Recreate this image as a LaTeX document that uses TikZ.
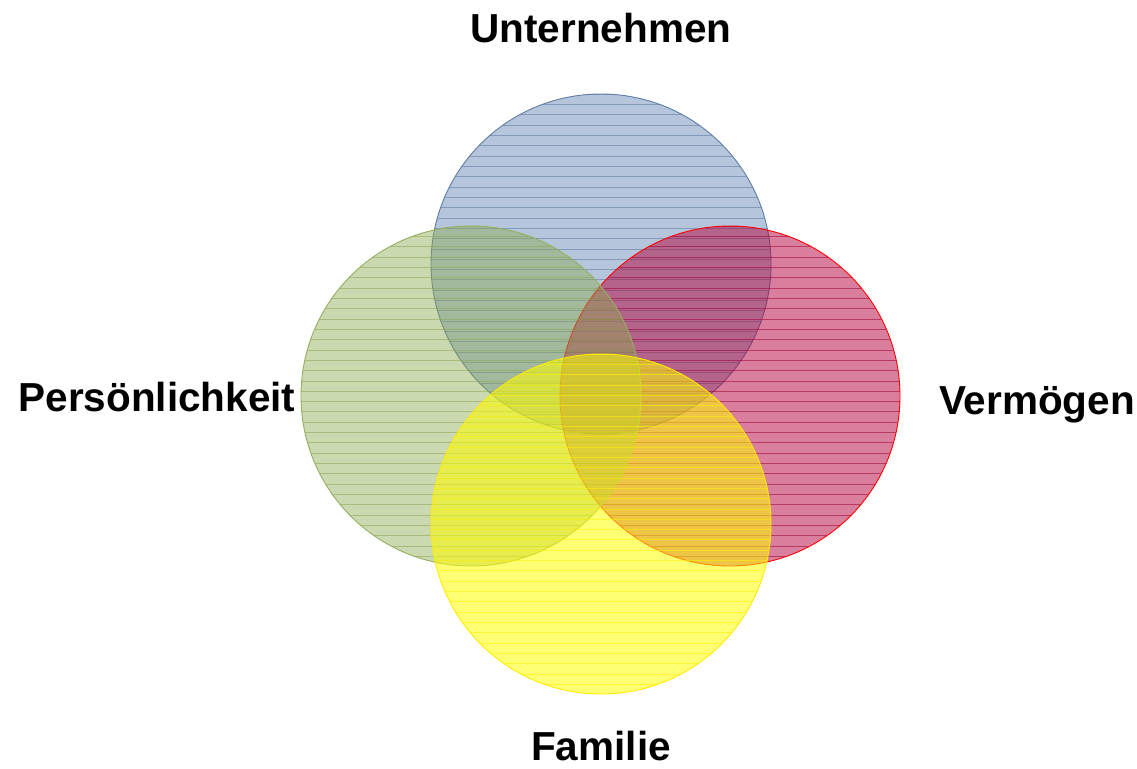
\documentclass[tikz,border=0pt]{standalone}
\usepackage{fontspec}
\setmainfont{Liberation Sans}
\begin{document}
\begin{tikzpicture}[x=1pt,y=-1pt,
  lbl/.style={font=\fontsize{40.5}{44}\selectfont\bfseries, inner sep=0pt},
  hatch/.style={line width=0.9pt, opacity=0.55}]
\useasboundingbox (0,0) rectangle (1137,768);
\definecolor{cblue}{RGB}{79,120,172}
\definecolor{cbluel}{RGB}{90,120,160}
\definecolor{cbluee}{RGB}{95,125,165}
\definecolor{cred}{RGB}{180,0,60}
\definecolor{credl}{RGB}{160,0,50}
\definecolor{crede}{RGB}{255,0,0}
\definecolor{cgreen}{RGB}{140,170,80}
\definecolor{cgreenl}{RGB}{140,165,80}
\definecolor{cgreene}{RGB}{150,175,95}
\definecolor{cyel}{RGB}{255,255,0}
\definecolor{cyell}{RGB}{255,240,0}
\definecolor{cyele}{RGB}{255,235,0}
\newcommand{\vcircle}[6]{%
  \fill[#3, fill opacity=#5] (#1,#2) circle (170);
  \begin{scope}
    \clip (#1,#2) circle (170);
    \foreach \k in {0,...,33} {
      \draw[hatch, #4] ({#1-175},{#2-170+\k*10.33}) -- ({#1+175},{#2-170+\k*10.33});
    }
  \end{scope}
  \draw[#6, line width=0.9pt] (#1,#2) circle (170);
}
\coordinate (cu) at (601,264);
\coordinate (cv) at (730,396);
\coordinate (cp) at (471,396);
\coordinate (cf) at (601,524);
\vcircle{601}{264}{cblue}{cbluel}{0.42}{cbluee}
\vcircle{730}{396}{cred}{credl}{0.5}{crede}
\vcircle{471}{396}{cgreen}{cgreenl}{0.45}{cgreene}
\vcircle{601}{524}{cyel}{cyell}{0.55}{cyele}
\node[lbl] (lu) at (601,28) {Unternehmen};
\node[lbl] (lp) at (157,397) {Persönlichkeit};
\node[lbl] (lv) at (1037,405) {Vermögen};
\node[lbl] (lf) at (601,746) {Familie};
\end{tikzpicture}
\end{document}
